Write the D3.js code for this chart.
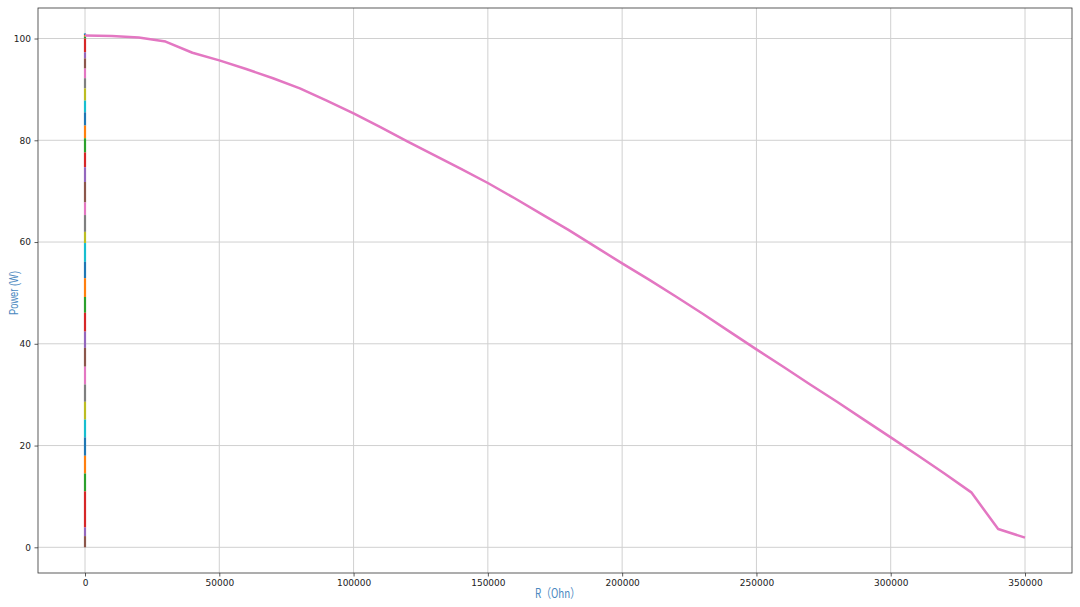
<!DOCTYPE html>
<html><head><meta charset="utf-8">
<script src="https://cdn.jsdelivr.net/npm/d3@7"></script>
<style>body{margin:0;background:#fff}svg{display:block}</style>
</head><body><svg id="c" width="1080" height="607"></svg>
<script>
// Pink curve: resistance (Ohm) vs power (W)
const resistance = [0,10000,20000,30000,40000,50000,60000,70000,80000,90000,100000,110000,120000,130000,140000,150000,160000,170000,180000,190000,200000,210000,220000,230000,240000,250000,260000,270000,280000,290000,300000,310000,320000,330000,340000,350000];
const power = [100.6,100.5,100.2,99.4,97.2,95.7,94.0,92.2,90.2,87.8,85.3,82.6,79.8,77.1,74.4,71.6,68.6,65.5,62.4,59.1,55.8,52.6,49.3,45.9,42.4,38.9,35.5,32.0,28.6,25.1,21.6,18.1,14.5,10.8,3.6,1.9];
// Short coloured segments plotted at R ~ 0 (one line per step)
const stepR = [0,0,0,0,0,0,0,0,0,0,0,0,0,0,0,0,0,0,0,0,0,0,0,0,0,0,0,0,0,0,0,0,0,0,0,0,0];
const stepP = [101.0,100.7,100.4,100.0,97.3,96.1,94.1,92.2,90.2,87.8,85.5,82.9,80.4,77.6,74.7,71.8,67.8,65.3,62.0,59.8,56.1,52.9,49.2,46.1,42.4,39.2,35.5,32.0,28.6,25.1,21.6,18.0,14.5,11.0,3.9,2.2,0];
const xTicks = [0,50000,100000,150000,200000,250000,300000,350000];
const yTicks = [0,20,40,60,80,100];
const palette = ["#1f77b4","#ff7f0e","#2ca02c","#d62728","#9467bd","#8c564b","#e377c2","#7f7f7f","#bcbd22","#17becf"];

const svg = d3.select("#c");
const L=38, R=1072, T=8, B=573;
const x = d3.scaleLinear().domain([-17500,367500]).range([L,R]);
const y = d3.scaleLinear().domain([-5.05,106.0]).range([B,T]);

// grid
const g = svg.append("g");
g.selectAll(".gx").data(xTicks).join("line")
  .attr("x1",d=>x(d)).attr("x2",d=>x(d)).attr("y1",T).attr("y2",B)
  .attr("stroke","#d0d0d0").attr("stroke-width",1);
g.selectAll(".gy").data(yTicks).join("line")
  .attr("y1",d=>y(d)).attr("y2",d=>y(d)).attr("x1",L).attr("x2",R)
  .attr("stroke","#d0d0d0").attr("stroke-width",1);

// axes
const xa = svg.append("g").attr("transform",`translate(0,${B})`)
  .call(d3.axisBottom(x).tickValues(xTicks).tickFormat(d3.format("d")).tickSize(3.5).tickPadding(3.5));
const ya = svg.append("g").attr("transform",`translate(${L},0)`)
  .call(d3.axisLeft(y).tickValues(yTicks).tickFormat(d3.format("d")).tickSize(3.5).tickPadding(3.5));
[xa,ya].forEach(a=>{
  a.select(".domain").remove();
  a.selectAll("text").attr("font-family","'DejaVu Sans',sans-serif").attr("font-size",9).attr("fill","#222");
  a.selectAll("line").attr("stroke","#333").attr("stroke-width",0.8);
});

// frame
svg.append("rect").attr("x",L).attr("y",T).attr("width",R-L).attr("height",B-T)
  .attr("fill","none").attr("stroke","#333").attr("stroke-width",0.8);

// step segments
const seg = [];
for (let i=0;i<stepP.length-1;i++) seg.push({i, a:[stepR[i],stepP[i]], b:[stepR[i+1],stepP[i+1]]});
svg.append("g").selectAll("line").data(seg).join("line")
  .attr("x1",d=>x(d.a[0])).attr("y1",d=>y(d.a[1]))
  .attr("x2",d=>x(d.b[0])).attr("y2",d=>y(d.b[1]))
  .attr("stroke",d=>palette[d.i%10]).attr("stroke-width",2.2);

// main curve
const line = d3.line().x(d=>x(d[0])).y(d=>y(d[1]));
svg.append("path").datum(resistance.map((r,i)=>[r,power[i]]))
  .attr("d",line).attr("fill","none").attr("stroke",palette[(seg.length)%10])
  .attr("stroke-width",2.5).attr("stroke-linejoin","round");

// labels
svg.append("text").attr("x",535).attr("y",598).attr("text-anchor","start")
  .attr("font-family","'Noto Sans CJK SC',sans-serif").attr("font-size",12.5).attr("fill","#4a88c0")
  .attr("textLength",45).attr("lengthAdjust","spacingAndGlyphs")
  .text("R（Ohn）");
svg.append("text").attr("transform",`translate(18,293) rotate(-90)`).attr("text-anchor","middle")
  .attr("font-family","'Liberation Sans',Arial,sans-serif").attr("font-size",12.5).attr("fill","#4a88c0")
  .attr("textLength",44).attr("lengthAdjust","spacingAndGlyphs")
  .text("Power (W)");
</script></body></html>
